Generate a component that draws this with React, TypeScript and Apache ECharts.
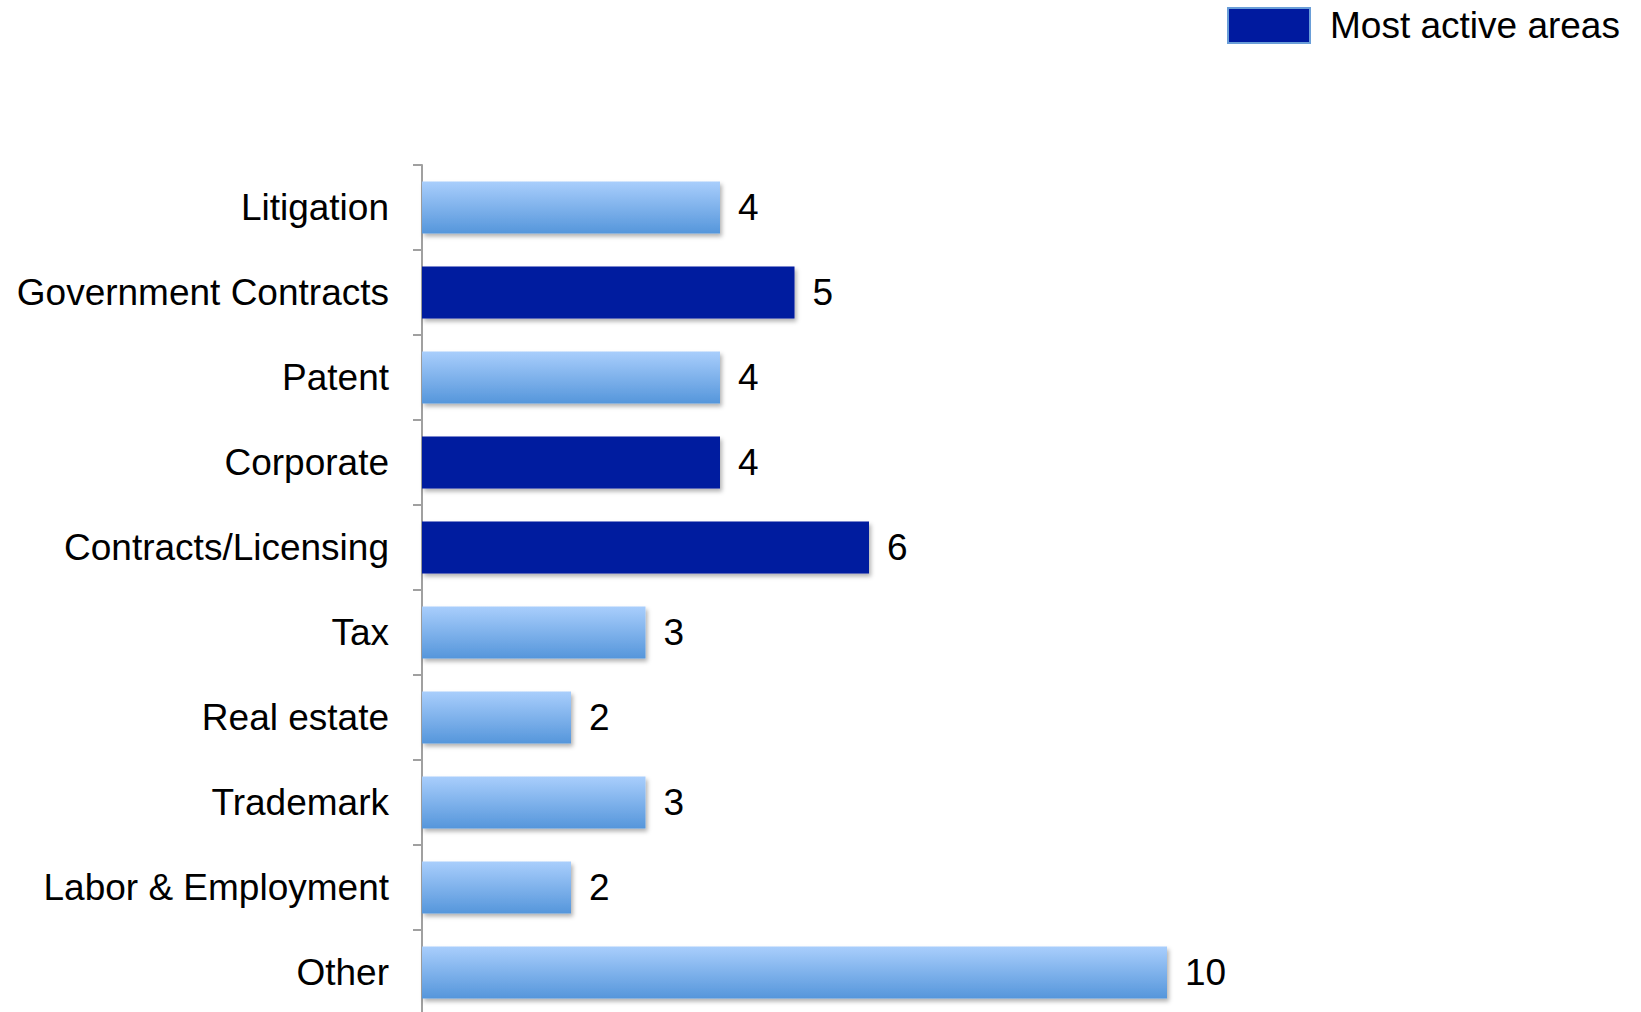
import React, { useEffect, useRef } from "react";
import * as echarts from "echarts";

const categories = [
  "Litigation",
  "Government Contracts",
  "Patent",
  "Corporate",
  "Contracts/Licensing",
  "Tax",
  "Real estate",
  "Trademark",
  "Labor & Employment",
  "Other",
];
const values = [4, 5, 4, 4, 6, 3, 2, 3, 2, 10];
const mostActive = [false, true, false, true, true, false, false, false, false, false];
const legendLabel = "Most active areas";

const DARK = "#001a9f";
const lightGradient = () =>
  new echarts.graphic.LinearGradient(0, 0, 0, 1, [
    { offset: 0, color: "#a9cefc" },
    { offset: 1, color: "#5596db" },
  ]);

export default function App() {
  const ref = useRef<HTMLDivElement>(null);
  useEffect(() => {
    if (!ref.current) return;
    const chart = echarts.init(ref.current, undefined, { renderer: "svg" });
    const font = "'Liberation Sans', Arial, sans-serif";
    chart.setOption({
      animation: false,
      backgroundColor: "#ffffff",
      textStyle: { fontFamily: font },
      legend: {
        left: 1227,
        top: 7,
        itemWidth: 82,
        itemHeight: 35,
        padding: 0,
        icon: "rect",
        data: [legendLabel],
        textStyle: { fontSize: 37, color: "#000", fontFamily: font, padding: [0, 0, 0, 15] },
        itemStyle: { color: DARK, borderColor: "#6a9ed8", borderWidth: 2 },
      },
      grid: { left: 422, top: 165, height: 850, width: 1192 },
      xAxis: { type: "value", min: 0, max: 16, show: false },
      yAxis: {
        type: "category",
        inverse: true,
        data: categories,
        axisLine: { show: true, lineStyle: { color: "#a0a0a0", width: 2 } },
        axisTick: { show: true, length: 9, lineStyle: { color: "#a0a0a0", width: 2 } },
        axisLabel: { fontSize: 37, color: "#000", margin: 33, fontFamily: font },
      },
      series: [
        {
          type: "bar",
          name: "Areas",
          stack: "all",
          barWidth: 52,
          data: values.map((v, i) => ({
            value: v,
            itemStyle: {
              color: mostActive[i] ? DARK : lightGradient(),
              shadowColor: "rgba(0,0,0,0.3)",
              shadowBlur: 4,
              shadowOffsetX: 2,
              shadowOffsetY: 3,
            },
          })),
          label: {
            show: true,
            position: "right",
            distance: 18,
            fontSize: 37,
            color: "#000",
            fontFamily: font,
          },
        },
        {
          type: "bar",
          name: legendLabel,
          stack: "all",
          barWidth: 52,
          data: [],
          itemStyle: { color: DARK },
        },
      ],
    });
    return () => chart.dispose();
  }, []);
  return (
    <div style={{ position: "fixed", left: 0, top: 0, width: 1641, height: 1012, overflow: "hidden", background: "#fff" }}>
      <div ref={ref} style={{ width: 1641, height: 1030 }} />
    </div>
  );
}
